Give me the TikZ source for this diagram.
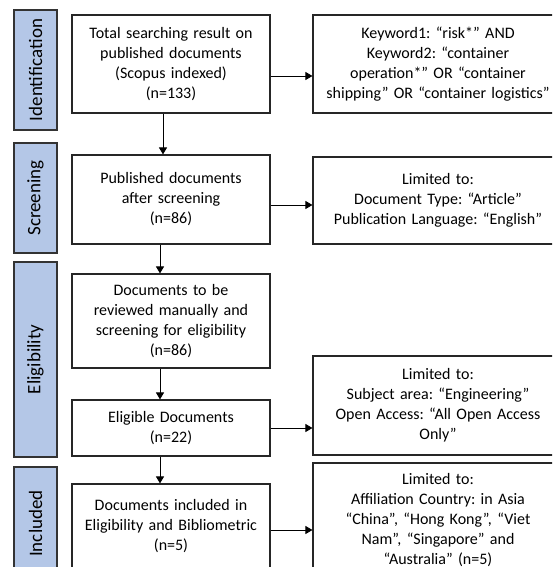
\documentclass[tikz,border=0pt]{standalone}
\usepackage{fontspec}
\setmainfont{Carlito}
\usetikzlibrary{arrows.meta}
\definecolor{stagefill}{HTML}{B4C7E7}
\definecolor{stageline}{HTML}{333333}
\frenchspacing
\begin{document}
\begin{tikzpicture}[x=1pt,y=-1pt,
    stage/.style={draw=stageline,line width=1.2pt,fill=stagefill,rotate=90,
        minimum height=43pt,inner sep=0pt,font=\fontsize{19}{22}\selectfont},
    box/.style={draw=black!85,line width=1.1pt,fill=white,align=center,
        minimum width=198pt,text width=190pt,inner sep=0pt,
        font=\fontsize{16}{20}\selectfont},
    note/.style={box,minimum width=250pt,text width=240pt},
    arr/.style={-{Triangle[length=7pt,width=8pt]},line width=1pt},
    harr/.style={arr,line width=0.8pt}]
\useasboundingbox (0,0) rectangle (552,567);
\clip (0,0) rectangle (552,567);
% stages on the left
\node[stage,minimum width=120pt] (ident) at (35.5,70) {Identification};
\node[stage,minimum width=110pt] (screen) at (35.5,198) {Screening};
\node[stage,minimum width=195pt] (elig) at (35.5,359.5) {Eligibility};
\node[stage,minimum width=113pt] (incl) at (35.5,523.5) {Included};
% main flow
\node[box,minimum height=98pt] (total) at (171,64)
    {Total searching result on\\published documents\\(Scopus indexed)\\(n=133)};
\node[box,minimum height=89pt] (after) at (171,199.5)
    {Published documents\\after screening\\(n=86)};
\node[box,minimum height=94pt] (review) at (171,321)
    {Documents to be\\reviewed manually and\\screening for eligibility\\(n=86)};
\node[box,minimum height=56pt] (eligdoc) at (171,428)
    {Eligible Documents\\(n=22)};
\node[box,minimum height=84pt] (final) at (171,526)
    {Documents included in\\Eligibility and Bibliometric\\(n=5)};
% limits on the right
\node[note,minimum height=98pt] (keyword) at (438,64)
    {Keyword1: “risk*” AND\\Keyword2: “container\\operation*” OR “container\\shipping” OR “container logistics”};
\node[note,minimum height=87pt] (doctype) at (438,200.5)
    {Limited to:\\Document Type: “Article”\\Publication Language: “English”};
\node[note,minimum height=99pt] (subject) at (438,405.5)
    {Limited to:\\Subject area: “Engineering”\\Open Access: “All Open Access\\Only”};
\node[note,minimum height=114pt] (country) at (438,520)
    {Limited to:\\Affiliation Country: in Asia\\“China”, “Hong Kong”, “Viet\\Nam”, “Singapore” and\\“Australia” (n=5)};
% connectors
\draw[arr] ([xshift=-8pt]total.south) -- ([xshift=-8pt]after.north);
\draw[arr] ([xshift=-11pt]after.south) -- ([xshift=-11pt]review.north);
\draw[arr] ([xshift=-11pt]review.south) -- ([xshift=-11pt]eligdoc.north);
\draw[arr] ([xshift=-11pt]eligdoc.south) -- ([xshift=-11pt]final.north);
\draw[harr] ([yshift=-12pt]total.east) -- ([yshift=-12pt]keyword.west);
\draw[harr] ([yshift=-5.5pt]after.east) -- ([yshift=-5.5pt]after.east -| doctype.west);
\draw[harr] (eligdoc.east) -- (eligdoc.east -| subject.west);
\draw[harr] ([yshift=-4pt]final.east) -- ([yshift=-4pt]final.east -| country.west);
\end{tikzpicture}
\end{document}
